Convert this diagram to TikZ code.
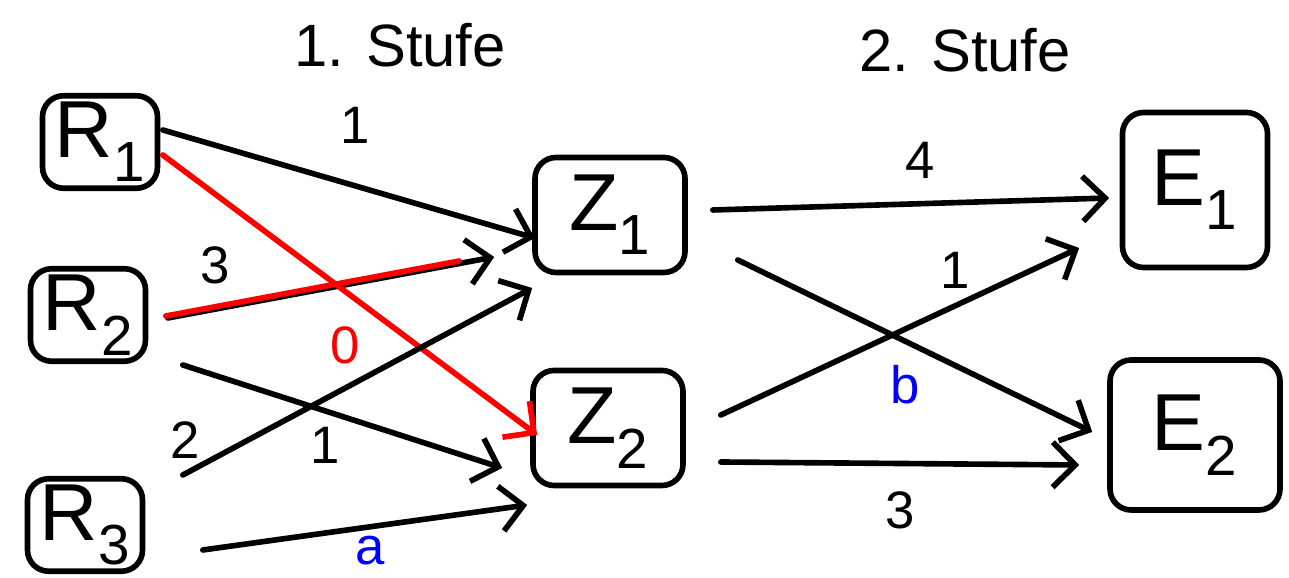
\documentclass[tikz,border=0pt]{standalone}
\usepackage{fontspec}
\setmainfont{Liberation Sans}
\usetikzlibrary{arrows.meta, calc}
\definecolor{pathred}{RGB}{255,0,0}
\definecolor{varblue}{RGB}{0,0,255}

\begin{document}
\begin{tikzpicture}[
  item/.style={rectangle, rounded corners=12pt, draw=black, line width=3.2pt,
               minimum width=2.3cm, minimum height=1.85cm, inner sep=2pt,
               font=\fontsize{46}{50}\selectfont},
  mid/.style={item, minimum width=3.0cm, minimum height=2.3cm},
  fin/.style={item, minimum width=2.9cm, minimum height=3.1cm},
  arr/.style={-{Straight Barb[length=0.45cm, width=0.9cm]}, line width=3.2pt,
              line cap=round, color=black},
  redarr/.style={arr, color=pathred},
  hl/.style={line width=3.2pt, line cap=round, color=pathred},
  wt/.style={font=\fontsize{30}{34}\selectfont},
  title/.style={font=\fontsize{34}{38}\selectfont}
]
\useasboundingbox (0,0) rectangle (25.78,11.56);

% ── Titles ───────────────────────────────────────────────────────────────
\node[title] (t1) at (8.0, 10.66)  {1. Stufe};
\node[title] (t2) at (19.3, 10.56) {2. Stufe};

% ── Column 1: raw materials ──────────────────────────────────────────────
\node[item] (R1) at (2.0, 8.72)  {R\textsubscript{1}};
\node[item] (R2) at (1.76, 5.26) {R\textsubscript{2}};
\node[item] (R3) at (1.7, 1.06)  {R\textsubscript{3}};

% ── Column 2: intermediate products ──────────────────────────────────────
\node[mid] (Z1) at (12.2, 7.26) {Z\textsubscript{1}};
\node[mid] (Z2) at (12.16, 3.0) {Z\textsubscript{2}};

% ── Column 3: end products ───────────────────────────────────────────────
\node[fin] (E1) at (23.9, 7.76) {E\textsubscript{1}};
\node[fin, minimum width=3.4cm, minimum height=3.0cm] (E2) at (23.9, 2.86) {E\textsubscript{2}};

% ── Arrows: stage 1 ──────────────────────────────────────────────────────
\draw[arr]    ($(R1.east)+(0.05,0.24)$)  -- ($(Z1.west)+(0.05,-0.46)$);
\draw[arr]    ($(R2.east)+(0.39,-0.06)$) -- ($(Z1.west)+(-0.76,-0.84)$);
\draw[hl]     ($(R2.east)+(0.35,-0.02)$) -- ($(Z1.west)+(-1.46,-0.92)$);   % red = marked path
\draw[redarr] ($(R1.east)+(0.05,-0.26)$) -- ($(Z2.west)+(0.14,-0.14)$);
\draw[arr]    ($(R2.east)+(0.69,-1.0)$)  -- ($(Z2.west)+(-0.56,-0.8)$);
\draw[arr]    ($(R3.east)+(0.75,1.0)$)   -- ($(Z1.west)+(0,-1.46)$);
\draw[arr]    ($(R3.east)+(1.15,-0.5)$)  -- ($(Z2.west)+(-0.06,-1.54)$);

% ── Arrows: stage 2 ──────────────────────────────────────────────────────
\draw[arr] ($(Z1.east)+(0.5,0.1)$)   -- ($(E1.west)+(-0.21,-0.16)$);
\draw[arr] ($(Z1.east)+(1.0,-0.9)$)  -- ($(E2.west)+(-0.3,0.06)$);
\draw[arr] ($(Z2.east)+(0.7,0.26)$)  -- ($(E1.west)+(-0.81,-1.16)$);
\draw[arr] ($(Z2.east)+(0.7,-0.68)$) -- ($(E2.west)+(-0.56,-0.6)$);

% ── Weights ──────────────────────────────────────────────────────────────
\node[wt] (w1) at (7.1, 9.06) {1};
\node[wt] (w2) at (4.3, 6.26) {3};
\node[wt, color=pathred] (w3) at (6.9, 4.66) {0};
\node[wt] (w4) at (3.7, 2.76) {2};
\node[wt] (w5) at (6.5, 2.66) {1};
\node[wt, color=varblue] (w6) at (7.4, 0.55) {a};
\node[wt] (w7) at (18.4, 8.36) {4};
\node[wt] (w8) at (19.1, 6.16) {1};
\node[wt, color=varblue] (w9) at (18.1, 3.86) {b};
\node[wt] (w10) at (18.0, 1.36) {3};

\end{tikzpicture}
\end{document}
